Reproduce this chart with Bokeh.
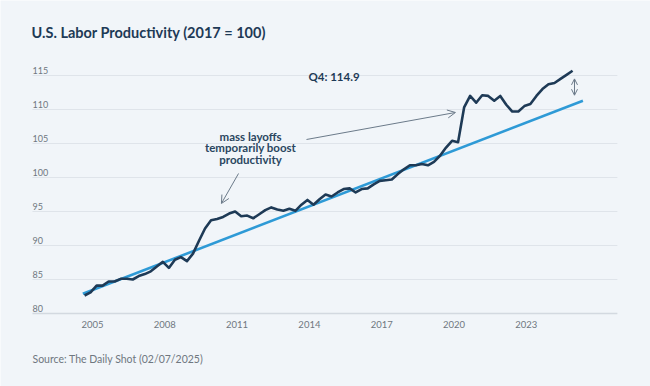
from bokeh.plotting import figure
from bokeh.models import Range1d, Label, Arrow, OpenHead
from bokeh.core.properties import value
from bokeh.embed import file_html
from bokeh.resources import INLINE

# ---- data ----
start_year, start_q = 2004, 3
productivity = [
    82.65, 83.1, 84.1, 84.1, 84.7, 84.7, 85.1, 85.1, 85.0, 85.5,
    85.8, 86.2, 86.9, 87.6, 86.7, 87.9, 88.3, 87.7, 88.8, 90.7,
    92.5, 93.7, 93.9, 94.2, 94.7, 95.0, 94.3, 94.4, 94.0, 94.6,
    95.2, 95.6, 95.3, 95.1, 95.4, 95.1, 96.0, 96.7, 96.0, 96.8,
    97.5, 97.2, 97.8, 98.3, 98.4, 97.8, 98.3, 98.4, 99.0, 99.5,
    99.6, 99.7, 100.5, 101.2, 101.8, 101.8, 102.0, 101.8, 102.3, 103.2,
    104.4, 105.4, 105.2, 110.3, 112.0, 111.0, 112.1, 112.0, 111.3, 112.0,
    110.7, 109.7, 109.7, 110.5, 110.8, 112.0, 113.0, 113.7, 113.9, 114.5,
    115.1, 115.7,
]
trend_years = [2004.6, 2025.35]
trend_values = [82.9, 111.3]
x_ticks = [2005, 2008, 2011, 2014, 2017, 2020, 2023]
y_ticks = [80, 85, 90, 95, 100, 105, 110, 115]
title_text = "U.S. Labor Productivity (2017 = 100)"
source_text = "Source: The Daily Shot (02/07/2025)"
note_lines = ["mass layoffs", "temporarily boost", "productivity"]
last_label = "Q4: 114.9"

# quarter positions (in fractional years)
years = []
y, q = start_year, start_q
for _ in productivity:
    years.append(y + (q - 1) / 4 + 0.17)
    q += 1
    if q > 4:
        q = 1
        y += 1

BG = "#f1f5f9"
DARK = "#1e3a56"
BLUE = "#2e9ad6"
GREY = "#6f7780"
ARROW = "#6b7a89"
FONT = "Lato"

# plotting area limits (data units) and the whole canvas as frame
X_LEFT, X_RIGHT = 2002.51, 2026.78
p = figure(width=650, height=386, output_backend="svg", toolbar_location=None,
           x_range=Range1d(2001.183, 2028.154), y_range=Range1d(69.265, 126.03),
           min_border=0)
p.background_fill_color = BG
p.border_fill_color = BG
p.outline_line_color = None
p.xaxis.visible = False
p.yaxis.visible = False
p.grid.visible = False

# gridlines (80 acts as the axis line)
p.segment(x0=[X_LEFT] * (len(y_ticks) - 1), x1=[X_RIGHT] * (len(y_ticks) - 1),
          y0=y_ticks[1:], y1=y_ticks[1:], line_color="#dfe4ea", line_width=1)
p.segment(x0=[X_LEFT], x1=[X_RIGHT], y0=[y_ticks[0]], y1=[y_ticks[0]],
          line_color="#d3d9e0", line_width=1.5)

# y tick labels above gridlines at left edge
p.text(x=[X_LEFT] * len(y_ticks), y=y_ticks, text=[str(v) for v in y_ticks],
       text_font=value(FONT), text_font_size="9px", text_color=GREY,
       text_align="left", text_baseline="bottom", y_offset=-2)
# x tick labels below the axis
p.text(x=x_ticks, y=[y_ticks[0]] * len(x_ticks), text=[str(v) for v in x_ticks],
       text_font=value(FONT), text_font_size="9.5px", text_color=GREY,
       text_align="center", text_baseline="middle", y_offset=11)

p.line(trend_years, trend_values, line_color=BLUE, line_width=2.6)
p.line(years, productivity, line_color=DARK, line_width=2.6, line_join="round")

# annotations
mid_y = [106.1, 104.37, 102.6]
for txt, yy in zip(note_lines, mid_y):
    p.add_layout(Label(x=2011.56, y=yy, text=txt, text_align="center",
                       text_baseline="middle", text_font=FONT, text_font_size="11.5px",
                       text_font_style="bold", text_color="#2a4660"))

p.add_layout(Arrow(x_start=2011.06, y_start=100.59, x_end=2010.35, y_end=96.18,
                   line_color=ARROW, line_width=1,
                   end=OpenHead(size=8, line_color=ARROW, line_width=1)))
p.add_layout(Arrow(x_start=2013.88, y_start=105.59, x_end=2020.06, y_end=109.56,
                   line_color=ARROW, line_width=1,
                   end=OpenHead(size=8, line_color=ARROW, line_width=1)))
p.add_layout(Arrow(x_start=2025.0, y_start=114.5, x_end=2025.0, y_end=112.1,
                   line_color=ARROW, line_width=1,
                   start=OpenHead(size=6, line_color=ARROW, line_width=1),
                   end=OpenHead(size=6, line_color=ARROW, line_width=1)))

p.add_layout(Label(x=2013.96, y=114.85, text=last_label, text_align="left",
                   text_baseline="middle", text_font=FONT, text_font_size="11.5px",
                   text_font_style="bold", text_color=DARK))

# title and source
p.add_layout(Label(x=2002.47, y=121.3, text=title_text, text_align="left",
                   text_baseline="middle", text_font=FONT, text_font_size="14.5px",
                   text_font_style="bold", text_color=DARK))
p.add_layout(Label(x=X_LEFT, y=73.25, text=source_text, text_align="left",
                   text_baseline="middle", text_font=FONT, text_font_size="10.5px",
                   text_color=GREY))

open("out.html", "w").write(file_html(p, INLINE))
